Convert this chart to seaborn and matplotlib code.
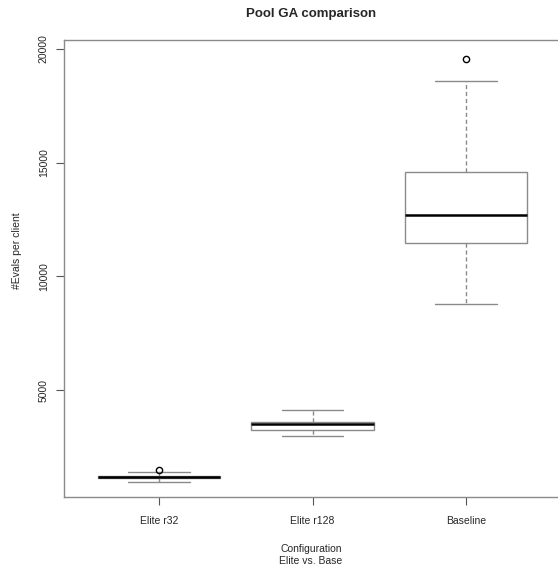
import matplotlib
matplotlib.use("Agg")
import matplotlib.pyplot as plt
import seaborn as sns
import pandas as pd

categories = ["Elite r32", "Elite r128", "Baseline"]
elite_r32 = [968, 1080, 1120, 1160, 1188, 1215, 1240, 1375, 1482]
elite_r128 = [2965, 3150, 3230, 3400, 3492, 3540, 3590, 3800, 4100]
baseline = [8764, 10500, 11468, 12100, 12713, 13600, 14578, 18594, 19548]
yticks = [5000, 10000, 15000, 20000]

df = pd.DataFrame({
    "Configuration": [categories[0]] * len(elite_r32) + [categories[1]] * len(elite_r128) + [categories[2]] * len(baseline),
    "Evals": elite_r32 + elite_r128 + baseline,
})

sns.set_style("white")
plt.rcParams["font.family"] = ["Liberation Sans", "DejaVu Sans"]

W, H = 558, 569
fig = plt.figure(figsize=(W / 100, H / 100), dpi=100)
ax = fig.add_axes([64 / W, 1 - 497 / H, (561 - 64) / W, (497 - 40) / H])

edge = "#8a8a8a"
sns.boxplot(data=df, x="Configuration", y="Evals", order=categories, ax=ax,
            width=0.8, whis=1.5, color="white", linecolor=edge, linewidth=1.0,
            boxprops=dict(facecolor="white", edgecolor=edge, linewidth=1.0),
            whiskerprops=dict(color=edge, linestyle=(0, (3, 2)), linewidth=1.0),
            capprops=dict(color=edge, linewidth=1.0),
            medianprops=dict(color="black", linewidth=1.8),
            flierprops=dict(marker="o", markersize=4.5, markerfacecolor="none",
                            markeredgecolor="black", markeredgewidth=1.0))

ax.set_xlim(-0.62, 2.62)
ax.set_ylim(295, 20397)
ax.set_yticks(yticks)
ax.set_yticklabels([str(v) for v in yticks], rotation=90, va="center", fontsize=7.5)
ax.tick_params(axis="x", labelsize=7.5, length=6, width=0.8, color="#555555", pad=8, bottom=True)
ax.tick_params(axis="y", length=6, width=0.8, color="#555555", pad=5, left=True)
for s in ax.spines.values():
    s.set_color("#8a8a8a")
    s.set_linewidth(1.0)
    s.set_visible(True)
ax.set_xlabel("")
ax.set_ylabel("")

fig.text(311 / W, 1 - 14 / H, "Pool GA comparison", ha="center", va="center",
         fontsize=9.5, fontweight="bold")
fig.text(311 / W, 1 - 549 / H, "Configuration", ha="center", va="center", fontsize=7.5)
fig.text(311 / W, 1 - 561 / H, "Elite vs. Base", ha="center", va="center", fontsize=7.5)
fig.text(17 / W, 1 - 251 / H, "#Evals per client", ha="center", va="center",
         rotation=90, fontsize=7.5)

fig.savefig("out.png", dpi=100, facecolor="white")
